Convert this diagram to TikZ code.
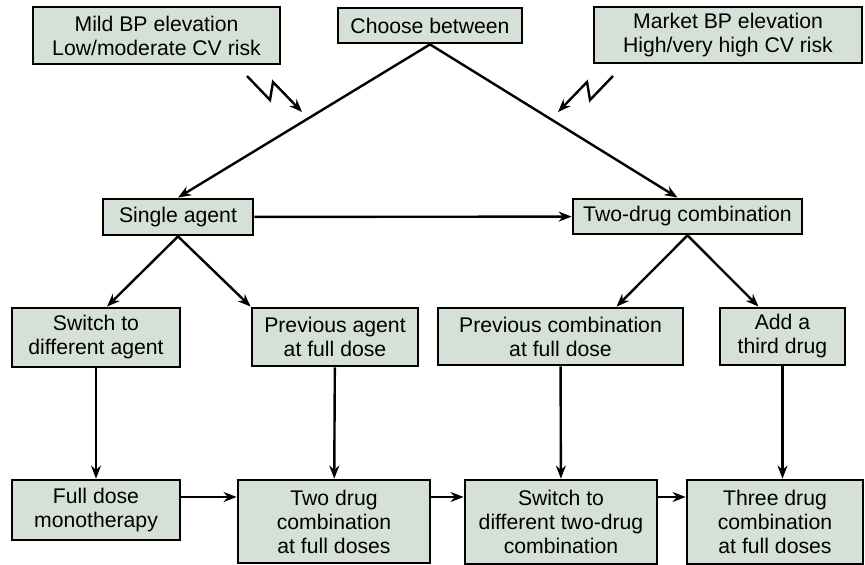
\documentclass[tikz,border=0pt]{standalone}
\usepackage{fontspec}
\setmainfont{Liberation Sans}
\usetikzlibrary{arrows.meta}
\definecolor{boxfill}{RGB}{213,225,215}

\begin{document}
\begin{tikzpicture}[x=0.5pt,y=-0.5pt,
  box/.style={draw=black,fill=boxfill,line width=1.4pt,align=center,inner sep=0pt,
    font=\fontsize{10.6}{12}\selectfont},
  arr/.style={line width=1.2pt,-{Stealth[length=6.5pt,width=5pt]}}]
\useasboundingbox (0,0) rectangle (865,565);
\node[box,minimum width=123.5pt,minimum height=28.5pt] (mild) at (156.5,35.5) {Mild BP elevation\\Low/moderate CV risk};
\node[box,minimum width=92pt,minimum height=17.5pt] (choose) at (430,25.5) {Choose between};
\node[box,minimum width=134pt,minimum height=28pt] (market) at (728,35) {Market BP elevation\\High/very high CV risk};
\node[box,minimum width=75pt,minimum height=18pt] (single) at (178,217) {Single agent};
\node[box,minimum width=114.5pt,minimum height=17.5pt] (twodrug) at (687.5,216.5) {Two-drug combination};
\node[box,minimum width=84pt,minimum height=29.5pt] (switch) at (96,337.5) {Switch to\\different agent};
\node[box,minimum width=83pt,minimum height=29pt] (prevagent) at (335,337) {Previous agent\\at full dose};
\node[box,minimum width=122.5pt,minimum height=28.5pt] (prevcomb) at (560.5,336.5) {Previous combination\\at full dose};
\node[box,minimum width=62.5pt,minimum height=28.5pt] (third) at (782.5,336.5) {Add a\\third drug};
\node[box,minimum width=84pt,minimum height=30pt] (fulldose) at (96,510) {Full dose\\monotherapy};
\node[box,minimum width=96pt,minimum height=41.5pt] (twodose) at (334,521.5) {Two drug\\combination\\at full doses};
\node[box,minimum width=96pt,minimum height=42pt] (switchtwo) at (561,522) {Switch to\\different two-drug\\combination};
\node[box,minimum width=88pt,minimum height=42pt] (threedrug) at (775,522) {Three drug\\combination\\at full doses};
\coordinate (boltL) at (247,76);
\coordinate (boltR) at (613,76);
\coordinate (row) at (0,497);
\draw[arr] (choose.south) -- (single.north);
\draw[arr] (choose.south) -- ([xshift=-5pt]twodrug.north);
\draw[arr] (boltL) -- ++(23,24) -- ++(3,-18) -- ++(29,30);
\draw[arr] (boltR) -- ++(-23,24) -- ++(-3,-18) -- ++(-29,30);
\draw[arr] (single) -- (twodrug);
\draw[arr] (single.south) -- ([xshift=5.5pt]switch.north);
\draw[arr] (single.south) -- (prevagent.north west);
\draw[arr] (twodrug.south) -- ([xshift=28pt]prevcomb.north);
\draw[arr] (twodrug.south) -- ([xshift=-12pt]third.north);
\draw[arr] (switch) -- (fulldose);
\draw[arr] (prevagent) -- (twodose);
\draw[arr] (prevcomb) -- (switchtwo);
\draw[arr] (third) -- (third |- threedrug.north);
\draw[arr] (fulldose.east |- row) -- (twodose.west |- row);
\draw[arr] (twodose.east |- row) -- (switchtwo.west |- row);
\draw[arr] (switchtwo.east |- row) -- (threedrug.west |- row);
\end{tikzpicture}
\end{document}
